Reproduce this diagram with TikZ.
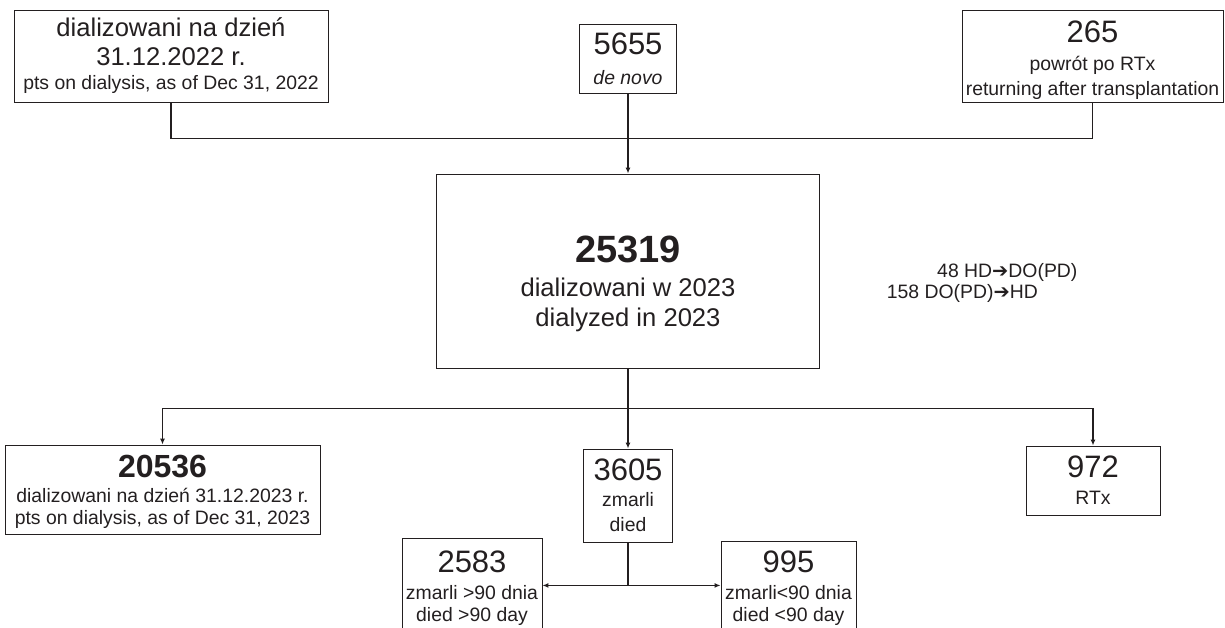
\documentclass[tikz,border=0pt]{standalone}
\usepackage{fontspec}
\setmainfont{Liberation Sans}
\newfontfamily\arrowfont{DejaVu Sans}
\usepackage{tikz}
\usetikzlibrary{arrows.meta}

\definecolor{ink}{HTML}{231F20}
\newcommand{\numfont}{\fontsize{31}{36}\selectfont}
\newcommand{\midfont}{\fontsize{25.6}{29}\selectfont}
\newcommand{\smlfont}{\fontsize{19.4}{24}\selectfont}
\newcommand{\hto}{{\arrowfont ➔}}

\begin{document}
\begin{tikzpicture}[x=1pt, y=-1pt,
  every node/.style={text=ink},
  box/.style={rectangle, draw=ink, line width=0.9pt, inner sep=0pt, align=center},
  note/.style={inner sep=0pt, font=\smlfont},
  link/.style={draw=ink, line width=1.2pt},
  arr/.style={link, -{Latex[length=6pt,width=5pt]}}]

\clip (0,0) rectangle (1225,627);

% sources
\node[box, minimum width=314pt, minimum height=92pt, font=\midfont] (init) at (171,56)
  {dializowani na dzień\\ 31.12.2022 r.\\[-5pt] \smlfont pts on dialysis, as of Dec 31, 2022};
\node[box, minimum width=97pt, minimum height=69pt, font=\numfont] (novo) at (628,58.5)
  {5655\\[-6pt] \smlfont\itshape de novo};
\node[box, minimum width=261pt, minimum height=92pt, font=\numfont] (ret) at (1092.5,56)
  {\rule{0pt}{30pt}265\\[-8pt] \smlfont powrót po RTx\\[-11pt] \smlfont returning after transplantation};

% total
\node[box, minimum width=383pt, minimum height=194pt, font=\midfont] (all) at (628,271)
  {\rule{0pt}{53pt}\fontsize{38}{44}\selectfont\bfseries 25319\\[5pt]
   dializowani w 2023\\[1pt] dialyzed in 2023};
\node[note, anchor=base west] (hdpd) at (937,277) {48 HD\hto DO(PD)};
\node[note, anchor=base east] (pdhd) at (1038,298) {158 DO(PD)\hto HD};

% outcomes
\node[box, minimum width=315pt, minimum height=89pt, font=\smlfont] (left) at (162.5,489.5)
  {\rule{0pt}{28pt}\fontsize{32}{36}\selectfont\bfseries 20536\\[1pt] dializowani na dzień 31.12.2023 r.\\[-2pt]
   pts on dialysis, as of Dec 31, 2023};
\node[box, minimum width=89pt, minimum height=93pt, font=\smlfont] (died) at (628,495.5)
  {\numfont 3605\\[2pt] zmarli\\[1pt] died};
\node[box, minimum width=134pt, minimum height=69pt, font=\smlfont] (rtx) at (1093,480.5)
  {\numfont 972\\[3pt] RTx};
\node[box, minimum width=140pt, minimum height=101pt, font=\smlfont] (late) at (472,588.5)
  {\numfont 2583\\[3pt] zmarli >90 dnia\\[-2pt] died >90 day};
\node[box, minimum width=135pt, minimum height=95pt, font=\smlfont] (early) at (788.5,588.5)
  {\numfont 995\\[3pt] zmarli<90 dnia\\[-2pt] died <90 day};

% connectors
\draw[link] (init.south) -- ++(0,36) -| (ret.south);
\draw[arr] (novo.south) -- (all.north);
\draw[link] (all.south) -- ++(0,40) coordinate (split);
\draw[arr] (split) -| (left.north);
\draw[arr] (split) -| (rtx.north);
\draw[arr] (split) -- (died.north);
\draw[link] (died.south) -- ++(0,43) coordinate (fork);
\draw[arr] (fork) -- (fork -| late.east);
\draw[arr] (fork) -- (fork -| early.west);
\end{tikzpicture}
\end{document}
